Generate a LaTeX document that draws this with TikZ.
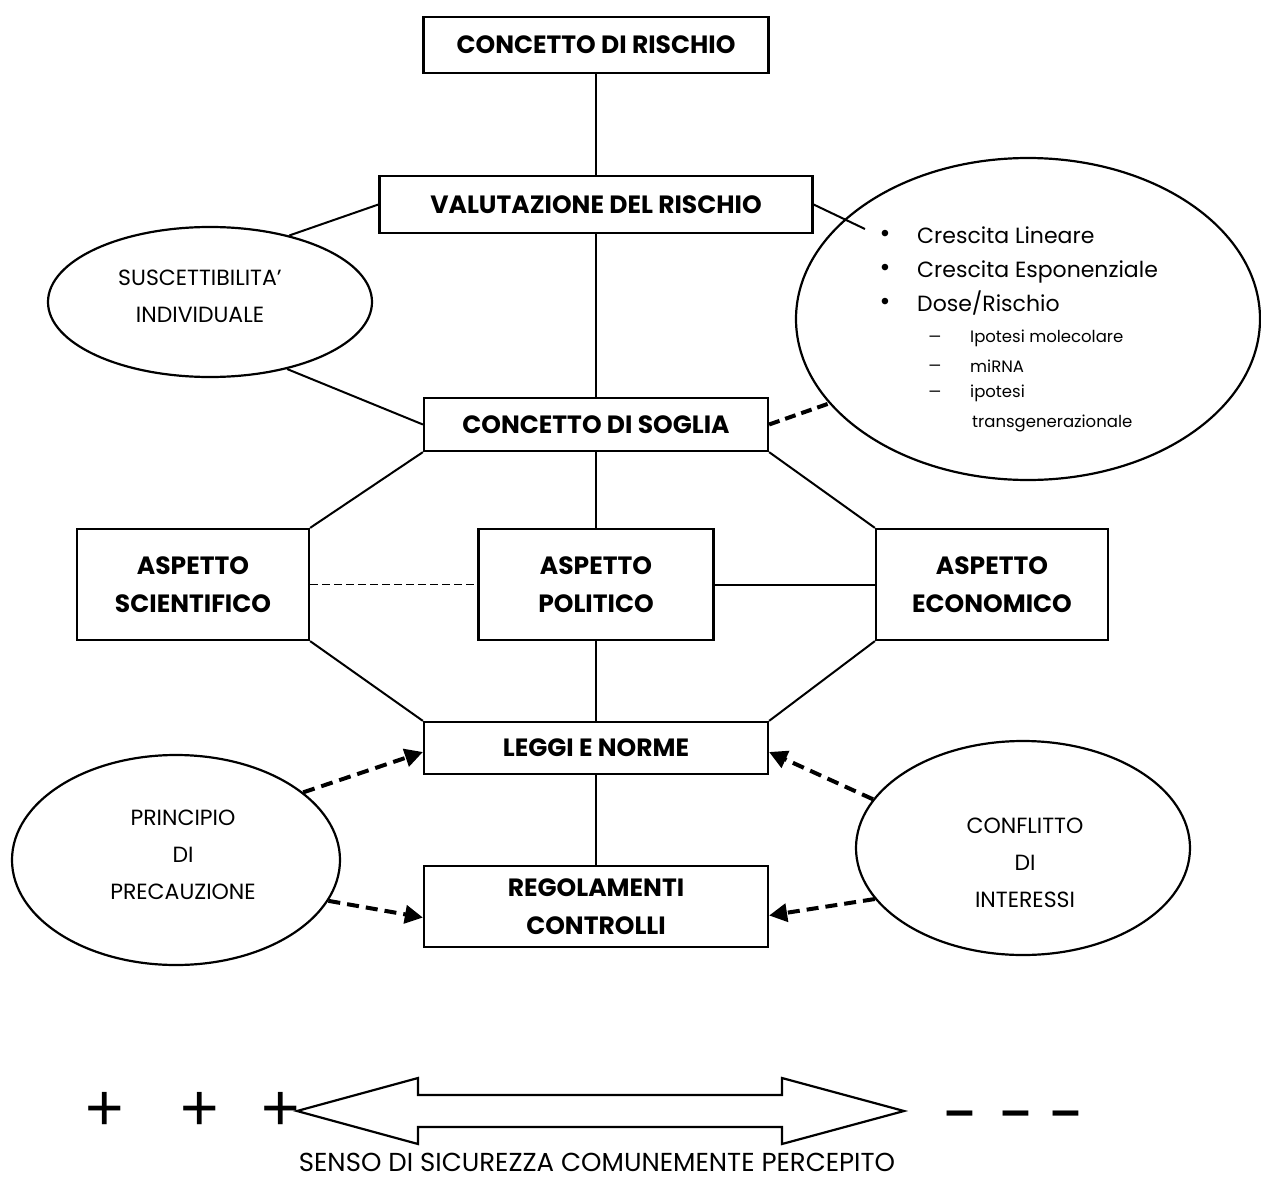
\documentclass[tikz,border=0pt]{standalone}
\usepackage{fontspec}
\setmainfont{Poppins}
\newfontfamily\libsans{Liberation Sans}
\usetikzlibrary{arrows.meta,shapes.geometric,calc}
\begin{document}
\begin{tikzpicture}[x=1pt,y=-1pt,
  box/.style={draw,line width=2.2pt,align=center,inner sep=0pt,
    font=\fontsize{25}{38}\selectfont\bfseries},
  oval/.style={draw,ellipse,line width=2.2pt,inner sep=0pt},
  txt/.style={align=center,inner sep=0pt,font=\fontsize{22}{37}\selectfont},
  item/.style={inner sep=0pt,anchor=base west,font=\fontsize{22}{24}\selectfont},
  subitem/.style={inner sep=0pt,anchor=base west,font=\fontsize{16.5}{18}\selectfont},
  bul/.style={inner sep=0pt,font=\libsans\fontsize{24}{24}\selectfont},
  dsh/.style={inner sep=0pt,font=\libsans\fontsize{19}{22}\selectfont},
  link/.style={line width=2pt},
  thinlink/.style={line width=1.5pt,dash pattern=on 8pt off 4pt},
  thicklink/.style={line width=4pt,dash pattern=on 11pt off 6pt},
  darrow/.style={line width=4pt,dash pattern=on 12pt off 7pt,
    -{Triangle[length=18pt,width=18pt]}},
  sign/.style={inner sep=0pt,font=\libsans\fontsize{66}{66}\selectfont},
  minus/.style={inner sep=0pt,font=\libsans\bfseries\fontsize{52}{52}\selectfont}]
\fill[white] (0,0) rectangle (1261,1180);
\useasboundingbox (0,0) rectangle (1261,1180);

% boxes
\node[box,minimum width=345pt,minimum height=56pt] (rischio) at (596,45) {CONCETTO DI RISCHIO};
\node[box,minimum width=433pt,minimum height=57pt] (valut) at (596,204.5) {VALUTAZIONE DEL RISCHIO};
\node[box,minimum width=344pt,minimum height=53pt] (soglia) at (596,424.5) {CONCETTO DI SOGLIA};
\node[box,minimum width=232pt,minimum height=111pt] (scient) at (193,584.5) {ASPETTO\\SCIENTIFICO};
\node[box,minimum width=235pt,minimum height=111pt] (polit) at (596,584.5) {ASPETTO\\POLITICO};
\node[box,minimum width=232pt,minimum height=111pt] (econ) at (992,584.5) {ASPETTO\\ECONOMICO};
\node[box,minimum width=344pt,minimum height=52pt] (leggi) at (596,748) {LEGGI E NORME};
\node[box,minimum width=344pt,minimum height=81pt] (regol) at (596,906.5) {REGOLAMENTI\\CONTROLLI};

% ellipses
\node[oval,minimum width=324pt,minimum height=150pt] (susc) at (210,302) {};
\node[txt] (susct) at (200,296) {SUSCETTIBILITA’\\INDIVIDUALE};
\node[oval,minimum width=464pt,minimum height=322pt] (dose) at (1028,319) {};
\node[oval,minimum width=328pt,minimum height=210pt] (princ) at (176,860) {};
\node[txt] (princt) at (183,855) {PRINCIPIO\\DI\\PRECAUZIONE};
\node[oval,minimum width=334pt,minimum height=214pt] (confl) at (1023,848) {};
\node[txt] (conflt) at (1025,863) {CONFLITTO\\DI\\INTERESSI};

% list in right ellipse
\node[bul] (b1) at (885,236) {•};
\node[bul] (b2) at (885,270) {•};
\node[bul] (b3) at (885,304) {•};
\node[item] (c1) at (917,243) {Crescita Lineare};
\node[item] (c2) at (917,277) {Crescita Esponenziale};
\node[item] (c3) at (917,311) {Dose/Rischio};
\node[dsh] (d1) at (935,339) {–};
\node[dsh] (d2) at (935,368) {–};
\node[dsh] (d3) at (935,394) {–};
\node[subitem] (s1) at (970,342) {Ipotesi molecolare};
\node[subitem] (s2) at (970,372) {miRNA};
\node[subitem] (s3) at (970,397) {ipotesi};
\node[subitem] (s4) at (972,427) {transgenerazionale};

% vertical spine
\draw[link] (rischio.south) -- (valut.north);
\draw[link] (valut.south) -- (soglia.north);
\draw[link] (soglia.south) -- (polit.north);
\draw[link] (polit.south) -- (leggi.north);
\draw[link] (leggi.south) -- (regol.north);

% side links
\draw[link] (valut.west) -- (susc.40);
\draw[link] (susc.-41) -- (soglia.west);
\coordinate (rin) at (865,229);
\draw[link] (valut.east) -- (rin);
\draw[thicklink] (soglia.east) -- (dose.203);

% octagon
\draw[link] (soglia.south west) -- (scient.north east);
\draw[link] (soglia.south east) -- (econ.north west);
\draw[link] (scient.south east) -- (leggi.north west);
\draw[link] (econ.south west) -- (leggi.north east);
\draw[thinlink] (scient.east) -- (polit.west);
\draw[link] (polit.east) -- (econ.west);

% dashed arrows
\draw[darrow] (princ.28) -- ([yshift=-4pt]leggi.west);
\draw[darrow] (princ.-15) -- ([yshift=-11pt]regol.west);
\draw[darrow] (confl.162) -- ([yshift=-4pt]leggi.east);
\draw[darrow] (confl.199) -- ([yshift=-9pt]regol.east);

% bottom scale
\node[sign] (p1) at (105,1111) {+};
\node[sign] (p2) at (200,1111) {+};
\node[sign] (p3) at (281,1111) {+};
\draw[line width=2.2pt,line join=miter] (297,1111) -- (418,1078) -- (418,1095) -- (782,1095)
  -- (782,1078) -- (904,1111) -- (782,1144) -- (782,1127) -- (418,1127) -- (418,1144) -- cycle;
\node[minus] (m1) at (960,1119) {–};
\node[minus] (m2) at (1016,1119) {–};
\node[minus] (m3) at (1066,1119) {–};
\node[inner sep=0pt,font=\fontsize{26}{28}\selectfont] (senso) at (597,1162) {SENSO DI SICUREZZA COMUNEMENTE PERCEPITO};
\end{tikzpicture}
\end{document}
